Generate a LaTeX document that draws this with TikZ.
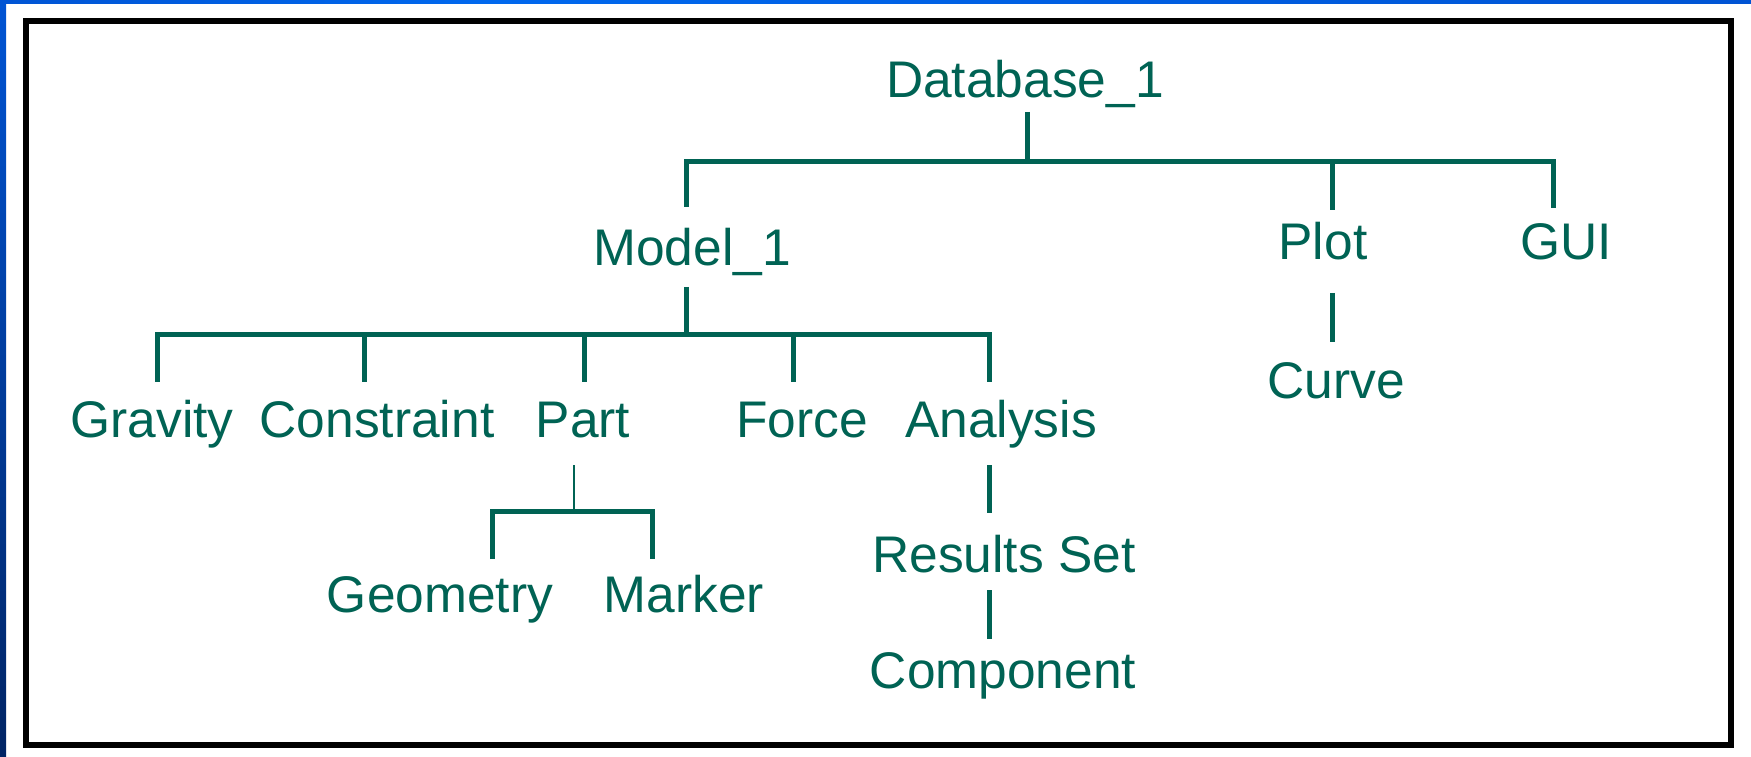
\documentclass[tikz,border=0pt]{standalone}
\usepackage{fontspec}
\setmainfont{Liberation Sans}
\usetikzlibrary{calc}
\definecolor{treeteal}{RGB}{0,99,84}
\definecolor{edgeblue}{RGB}{0,84,212}
\definecolor{edgelight}{RGB}{0,104,238}
\definecolor{edgenavy}{RGB}{0,36,100}
\begin{document}
\begin{tikzpicture}[x=1pt,y=1pt,
  label/.style={anchor=base,inner sep=0pt,text=treeteal,
    font=\fontsize{51.5}{60}\selectfont},
  link/.style={draw=treeteal,line width=5pt,line join=miter},
  thinlink/.style={draw=treeteal,line width=2.2pt}]
% canvas and slide edges
\useasboundingbox (0,0) rectangle (1751,756);
\fill[white] (0,0) rectangle (1751,756);
\shade[left color=edgeblue,right color=edgelight] (0,752) rectangle (480,756);
\shade[left color=edgelight,right color=edgeblue] (480,752) rectangle (1751,756);
\shade[top color=edgeblue,bottom color=edgenavy] (0,0) rectangle (6,756);
% frame
\draw[line width=6pt] (26,734.5) rectangle (1731,11.5);

% labels
\node[label] (db) at (1025,658) {Database\_1};
\node[label] (model) at (692,490) {Model\_1};
\node[label] (plot) at (1323,496) {Plot};
\node[label] (gui) at (1566,496) {GUI};
\node[label] (curve) at (1336,357) {Curve};
\node[label] (gravity) at (152,319) {Gravity};
\node[label] (constraint) at (377,319) {Constraint};
\node[label] (part) at (583,319) {Part};
\node[label] (force) at (802,319) {Force};
\node[label] (analysis) at (1001,319) {Analysis};
\node[label] (geometry) at (440,144) {Geometry};
\node[label] (marker) at (684,144) {Marker};
\node[label] (results) at (1004,184) {Results Set};
\node[label] (component) at (1003,68) {Component};

% Database_1 -> Model_1, Plot, GUI
\coordinate (j1) at ([shift={(2pt,-64pt)}]db.base);
\draw[link] ([shift={(2pt,-14pt)}]db.base) -- (j1);
\draw[link] ([shift={(-6pt,59pt)}]model.base) |- (j1) -| ([shift={(-13pt,52pt)}]gui.base);
\draw[link] ([shift={(9pt,50pt)}]plot.base) -- ++(0,48);

% Plot -> Curve
\draw[link] ([shift={(9pt,-33pt)}]plot.base) -- ([shift={(-4pt,57pt)}]curve.base);

% Model_1 -> children
\coordinate (j2) at ([shift={(-6pt,-69pt)}]model.base);
\draw[link] ([shift={(-6pt,-21pt)}]model.base) -- (j2);
\draw[link] ([shift={(5pt,55pt)}]gravity.base) |- (j2) -| ([shift={(-12pt,55pt)}]analysis.base);
\draw[link] ([shift={(-13pt,55pt)}]constraint.base) -- ++(0,47);
\draw[link] ([shift={(1pt,55pt)}]part.base) -- ++(0,47);
\draw[link] ([shift={(-9pt,55pt)}]force.base) -- ++(0,47);

% Part -> Geometry, Marker
\coordinate (j3) at ([shift={(-9pt,-74pt)}]part.base);
\draw[thinlink] ([shift={(-9pt,-28pt)}]part.base) -- (j3);
\draw[link] ([shift={(52pt,53pt)}]geometry.base) |- (j3) -| ([shift={(-32pt,53pt)}]marker.base);

% Analysis -> Results Set -> Component
\draw[link] ([shift={(-12pt,-28pt)}]analysis.base) -- ([shift={(-15pt,59pt)}]results.base);
\draw[link] ([shift={(-15pt,-18pt)}]results.base) -- ([shift={(-14pt,49pt)}]component.base);
\end{tikzpicture}
\end{document}
